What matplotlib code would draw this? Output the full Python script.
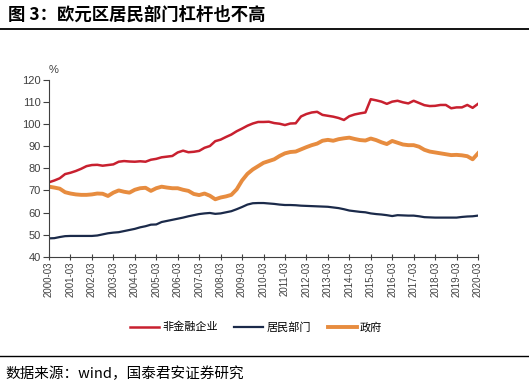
import matplotlib
matplotlib.use("Agg")
import matplotlib.pyplot as plt
from matplotlib.lines import Line2D

plt.rcParams['font.family'] = ['Noto Sans CJK SC', 'DejaVu Sans']

# ---- data (quarterly, 2000Q1 .. 2020Q1), % of GDP ----
corporate = [73.7, 74.5, 75.5, 77.4, 78.0, 78.8, 79.8, 81.0, 81.5, 81.6,
             81.2, 81.5, 81.8, 83.0, 83.3, 83.1, 83.0, 83.2, 83.0, 83.9,
             84.3, 85.0, 85.3, 85.6, 87.2, 88.0, 87.3, 87.5, 87.9, 89.3,
             90.1, 92.3, 93.0, 94.2, 95.3, 96.8, 98.0, 99.3, 100.3, 101.0,
             101.0, 101.1, 100.5, 100.2, 99.6, 100.3, 100.4, 103.5, 104.6, 105.3,
             105.6, 104.2, 103.8, 103.4, 102.8, 101.9, 103.6, 104.4, 104.9, 105.3,
             111.3, 110.8, 110.2, 109.2, 110.2, 110.6, 109.9, 109.4, 110.6, 109.6,
             108.6, 108.2, 108.3, 108.7, 108.7, 107.2, 107.6, 107.6, 108.7, 107.4,
             109.2]
household = [48.3, 48.4, 48.9, 49.3, 49.4, 49.4, 49.4, 49.4, 49.4, 49.6,
             50.1, 50.6, 50.9, 51.1, 51.6, 52.1, 52.6, 53.3, 53.8, 54.5,
             54.6, 55.7, 56.2, 56.7, 57.2, 57.7, 58.3, 58.8, 59.3, 59.6,
             59.8, 59.4, 59.6, 60.1, 60.6, 61.5, 62.5, 63.6, 64.2, 64.3,
             64.3, 64.1, 63.9, 63.6, 63.4, 63.4, 63.3, 63.1, 63.0, 62.9,
             62.8, 62.7, 62.6, 62.3, 62.0, 61.5, 60.9, 60.6, 60.3, 60.1,
             59.6, 59.3, 59.1, 58.8, 58.4, 58.8, 58.7, 58.6, 58.6, 58.3,
             57.9, 57.8, 57.7, 57.7, 57.7, 57.7, 57.7, 58.0, 58.2, 58.3,
             58.6]
government = [71.7, 71.3, 70.8, 69.2, 68.6, 68.2, 68.0, 68.0, 68.2, 68.6,
              68.5, 67.5, 69.0, 70.0, 69.4, 69.0, 70.3, 71.0, 71.2, 69.8,
              71.0, 71.7, 71.3, 71.0, 71.0, 70.3, 69.8, 68.4, 67.9, 68.6,
              67.6, 66.0, 66.8, 67.3, 68.0, 70.5, 74.5, 77.5, 79.5, 81.0,
              82.5, 83.3, 84.1, 85.6, 86.8, 87.4, 87.6, 88.6, 89.6, 90.5,
              91.2, 92.5, 92.9, 92.5, 93.2, 93.6, 93.9, 93.3, 92.8, 92.6,
              93.5, 92.8, 91.8, 91.0, 92.4, 91.6, 90.8, 90.5, 90.5, 89.8,
              88.4, 87.6, 87.2, 86.8, 86.4, 86.0, 86.1, 85.9, 85.5, 84.1,
              86.8]
tick_labels = ['2000-03', '2001-03', '2002-03', '2003-03', '2004-03', '2005-03',
               '2006-03', '2007-03', '2008-03', '2009-03', '2010-03', '2011-03',
               '2012-03', '2013-03', '2014-03', '2015-03', '2016-03', '2017-03',
               '2018-03', '2019-03', '2020-03']
series_names = ['非金融企业', '居民部门', '政府']

W, H = 529, 385
fig = plt.figure(figsize=(W / 100, H / 100), dpi=100)

ax = fig.add_axes([49 / W, 1 - 256.7 / H, (478 - 49) / W, (256.7 - 80) / H])

x = list(range(len(corporate)))
c_red = '#C8202F'
c_navy = '#1B2A4A'
c_orange = '#E78C3F'
ax.plot(x, corporate, color=c_red, lw=1.8, solid_joinstyle='round')
ax.plot(x, household, color=c_navy, lw=1.6, solid_joinstyle='round')
ax.plot(x, government, color=c_orange, lw=2.8, solid_joinstyle='round')

ax.set_xlim(0, 80)
ax.set_ylim(40, 120)
ax.set_yticks(range(40, 121, 10))
ax.set_xticks(range(0, 81, 4))
ax.set_xticklabels(tick_labels, rotation=90, fontsize=7, color='#404040',
                   family=['Liberation Sans', 'DejaVu Sans'])
for lab in ax.get_yticklabels():
    lab.set_fontsize(8)
    lab.set_color('#404040')
    lab.set_family(['Liberation Sans', 'DejaVu Sans'])

for s in ['top', 'right']:
    ax.spines[s].set_visible(False)
for s in ['left', 'bottom']:
    ax.spines[s].set_color('#404040')
    ax.spines[s].set_linewidth(0.8)
ax.tick_params(axis='x', direction='inout', length=5, width=0.8, color='#404040', pad=1)
ax.tick_params(axis='y', direction='out', length=4, width=0.8, color='#404040', pad=2)

ax.text(0.0, 1.03, '%', transform=ax.transAxes, fontsize=8, color='#404040',
        ha='left', va='bottom', family=['Liberation Sans', 'DejaVu Sans'])

handles = [Line2D([], [], color=c_red, lw=1.8),
           Line2D([], [], color=c_navy, lw=1.6),
           Line2D([], [], color=c_orange, lw=2.8)]
fig.legend(handles, series_names, loc='center', bbox_to_anchor=(256 / W, 1 - 327 / H),
           ncol=3, frameon=False, fontsize=8, handlelength=2.6, handletextpad=0.3,
           columnspacing=1.5)

# title and decorations
fig.text(8 / W, 1 - 15 / H, '图 3：欧元区居民部门杠杆也不高', fontsize=12.5, fontweight='bold',
         ha='left', va='center', color='#000000')
fig.add_artist(Line2D([0, 1], [1 - 29 / H, 1 - 29 / H], transform=fig.transFigure,
                      color='#000000', lw=1.3))
fig.add_artist(Line2D([0, 1], [1 - 356 / H, 1 - 356 / H], transform=fig.transFigure,
                      color='#000000', lw=1.0))
fig.text(5 / W, 1 - 374 / H, '数据来源：wind，国泰君安证券研究', fontsize=10.5,
         ha='left', va='center', color='#000000')

fig.savefig('out.png', dpi=100)
